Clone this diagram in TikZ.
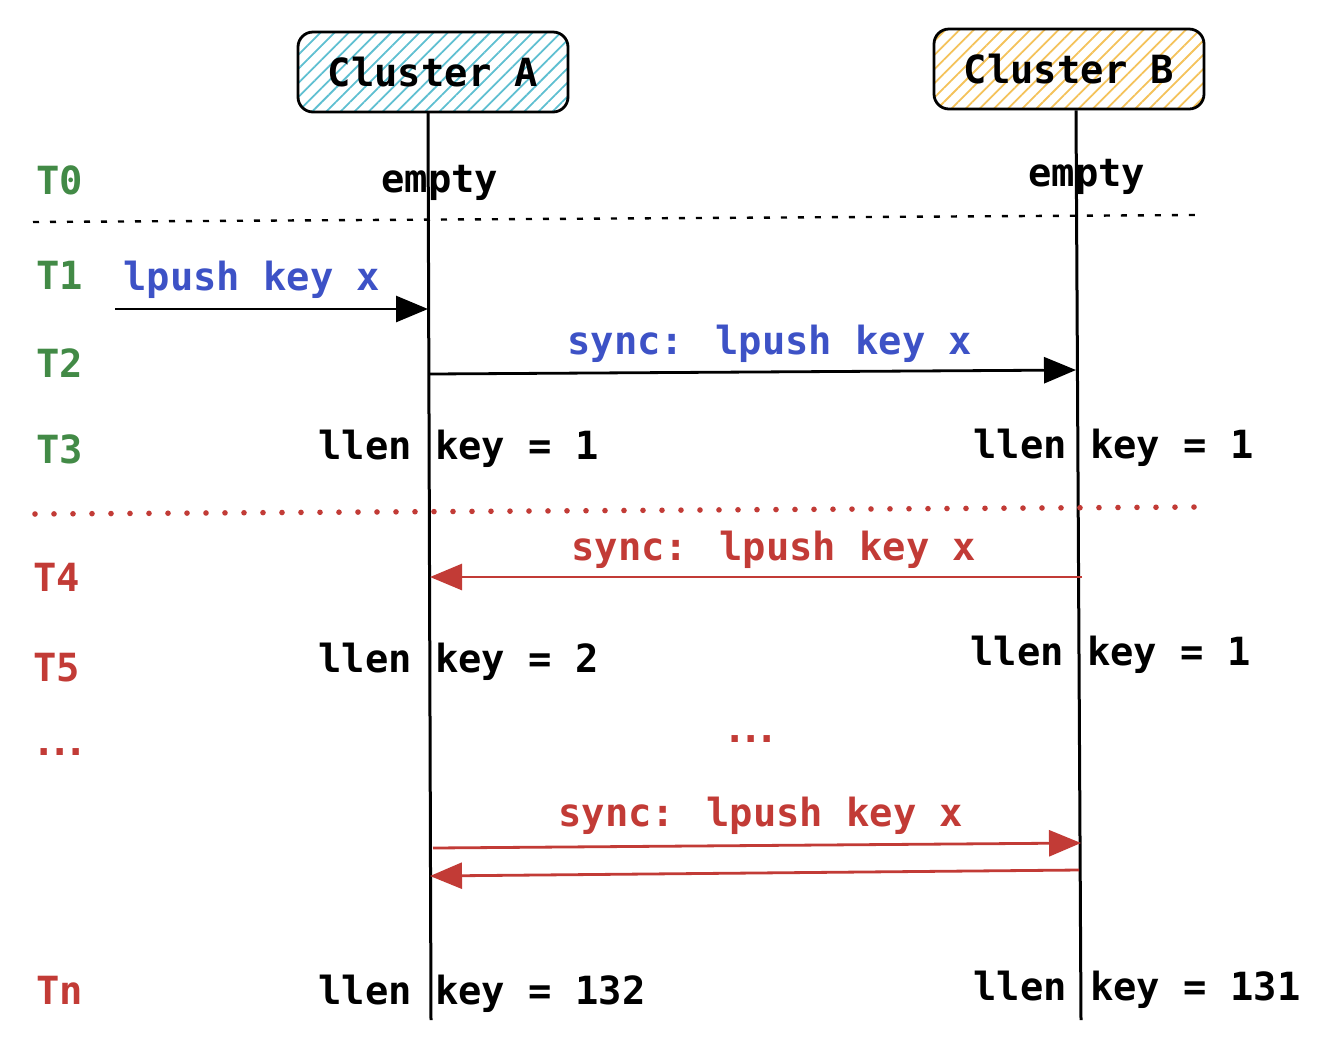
\documentclass[tikz,border=0pt]{standalone}
\usepackage{fontspec}
\setmainfont{DejaVu Sans Mono}
\usetikzlibrary{arrows.meta,patterns.meta}
\definecolor{stepgreen}{HTML}{428A46}
\definecolor{stepred}{HTML}{C23B36}
\definecolor{cmdblue}{HTML}{3D52C6}
\definecolor{hatchA}{HTML}{5EBFD1}
\definecolor{hatchB}{HTML}{F4C25A}
\newcommand{\tdots}{.\kern-3.6pt.\kern-3.6pt.}

\begin{document}
\begin{tikzpicture}[x=0.5pt,y=-0.5pt,
  font=\fontsize{19.4}{23}\selectfont\bfseries,
  cluster/.style={draw,line width=1.4pt,rounded corners=7.5pt,minimum width=135pt,minimum height=40pt,inner sep=0pt},
  lifeline/.style={line width=1.5pt},
  msg/.style={line width=1.4pt,-{Triangle[length=16pt,width=13pt]}},
  txt/.style={anchor=base west,inner sep=0pt},
  stamp/.style={txt,text=stepgreen},
  late/.style={txt,text=stepred}]

\useasboundingbox (0,0) rectangle (1328,1046);

% Clusters and their lifelines
\node[cluster,pattern={Lines[angle=45,distance=5pt,line width=0.9pt]},pattern color=hatchA] (ca) at (433,72) {Cluster A};
\node[cluster,pattern={Lines[angle=45,distance=5pt,line width=0.9pt]},pattern color=hatchB] (cb) at (1069,69) {Cluster B};
\coordinate (caend) at (431,1020);
\coordinate (cbend) at (1081,1020);
\draw[lifeline] (ca.south -| 428,0) -- (caend);
\draw[lifeline] (cb.south -| 1076,0) -- (cbend);

% Time stamps
\node[stamp] (t0) at (36,194) {T0};
\node[stamp] (t1) at (36,289) {T1};
\node[stamp] (t2) at (36,377) {T2};
\node[stamp] (t3) at (36,463) {T3};
\node[late] (t4) at (33,591) {T4};
\node[late] (t5) at (33,681) {T5};
\node[late] (tdot) at (32,755) {\tdots};
\node[late] (tn) at (36,1004) {Tn};

% Separators
\coordinate (sep0a) at (33,222);
\coordinate (sep0b) at (1195,215);
\coordinate (sep1a) at (35,514);
\coordinate (sep1b) at (1200,507);
\draw[line width=1.2pt,dash pattern=on 3pt off 5.5pt] (sep0a) -- (sep0b);
\draw[stepred,line width=2.8pt,line cap=round,dash pattern=on 0pt off 9.5pt] (sep1a) -- (sep1b);

% States
\node[txt] (ea) at (381,192) {empty};
\node[txt] (eb) at (1028,186) {empty};
\node[txt] (la3) at (318,459) {llen key = 1};
\node[txt] (lb3) at (973,458) {llen key = 1};
\node[txt] (la5) at (318,672) {llen key = 2};
\node[txt] (lb5) at (970,665) {llen key = 1};
\node[txt] (lan) at (318,1004) {llen key = 132};
\node[txt] (lbn) at (973,1000) {llen key = 131};

% Messages
\coordinate (client) at (115,309);
\coordinate (a1) at (428,309);
\coordinate (a2) at (430,374);
\coordinate (b2) at (1076,370);
\coordinate (b4) at (1082,577);
\coordinate (a4) at (430,577);
\coordinate (a6) at (433,848);
\coordinate (b6) at (1081,843);
\coordinate (b7) at (1079,870);
\coordinate (a7) at (430,876);
\node[txt,text=cmdblue] (m1) at (123,290) {lpush key x};
\draw[msg] (client) -- (a1);
\node[txt,text=cmdblue] (m2) at (567,354) {sync: lpush key x};
\draw[msg] (a2) -- (b2);
\node[txt,text=stepred] (m4) at (571,560) {sync: lpush key x};
\draw[msg,stepred] (b4) -- (a4);
\node[txt,text=stepred] (mdot) at (723,742) {\tdots};
\node[txt,text=stepred] (m6) at (558,826) {sync: lpush key x};
\draw[msg,stepred] (a6) -- (b6);
\draw[msg,stepred] (b7) -- (a7);

\end{tikzpicture}
\end{document}
